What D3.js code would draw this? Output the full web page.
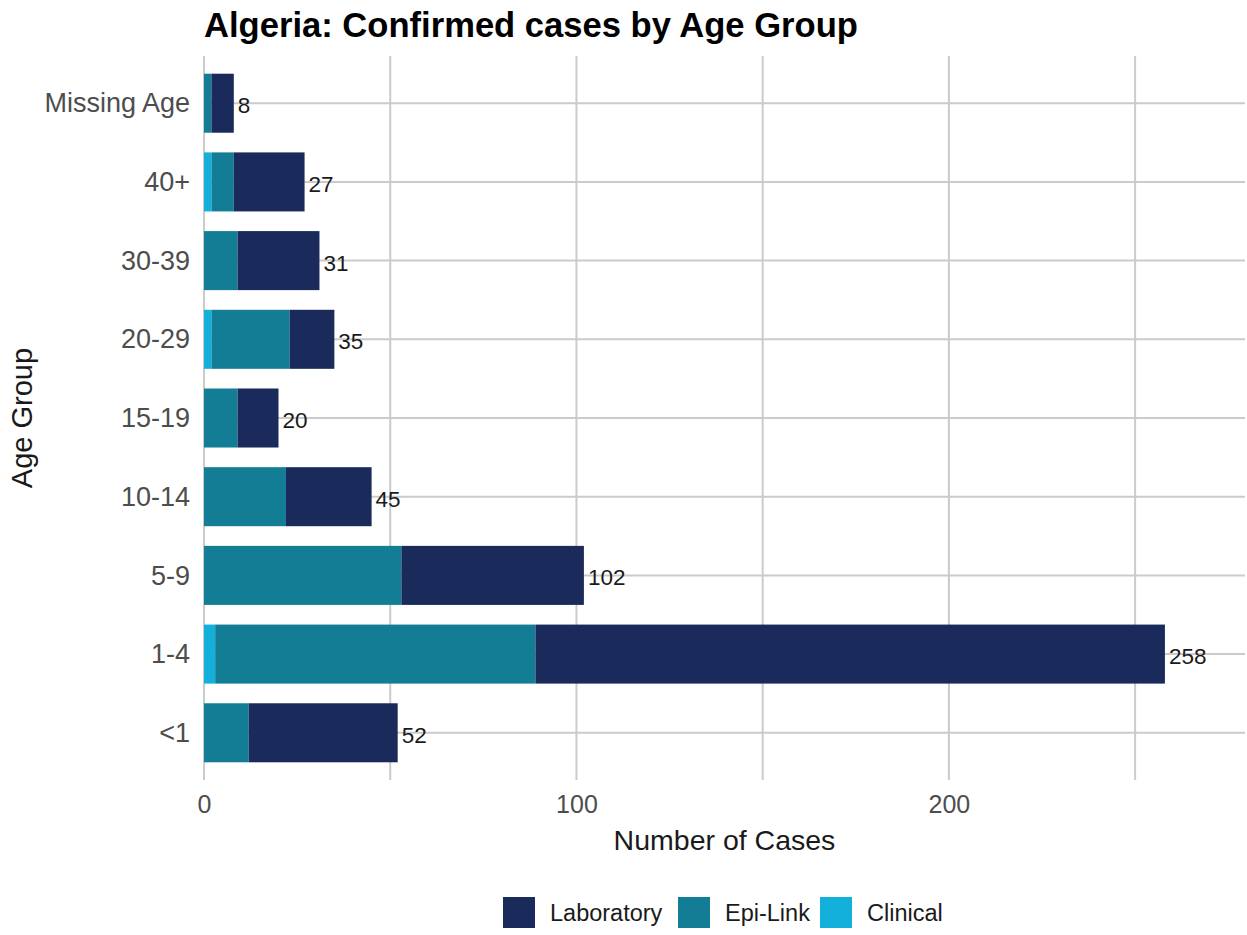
<!DOCTYPE html>
<html>
<head>
<meta charset="utf-8">
<script src="https://cdn.jsdelivr.net/npm/d3@7"></script>
<style>
  body { margin: 0; background: #fff; }
  text { font-family: "Liberation Sans", Arial, sans-serif; }
</style>
</head>
<body>
<div id="chart"></div>
<script>
var width = 1247,
	height = 935;

// data
var ageGroups = ["Missing Age", "40+", "30-39", "20-29", "15-19", "10-14", "5-9", "1-4", "<1"];
var clinical = [0, 2, 0, 2, 0, 0, 0, 3, 0];
var epiLink = [2, 6, 9, 21, 9, 22, 53, 86, 12];
var laboratory = [6, 19, 22, 12, 11, 23, 49, 169, 40];
var xTicks = [0, 100, 200];
var xGrid = [0, 50, 100, 150, 200, 250];

var seriesKeys = ["Clinical", "Epi-Link", "Laboratory"];
var colors = { "Laboratory": "#1a2a5a", "Epi-Link": "#127d95", "Clinical": "#12b0da" };

var rows = ageGroups.map(function (g, i) {
	return { group: g, "Clinical": clinical[i], "Epi-Link": epiLink[i], "Laboratory": laboratory[i] };
});
var stacked = d3.stack().keys(seriesKeys)(rows);

var panel = { left: 204, right: 1245, top: 56, bottom: 780 };

var x = d3.scaleLinear()
	.domain([0, 279.5])
	.range([panel.left, panel.right]);

// ggplot style discrete expansion: 0.6 of a step on each side
var step = (panel.bottom - panel.top) / (ageGroups.length - 1 + 1.2);
var y = d3.scalePoint()
	.domain(ageGroups)
	.range([panel.top + 0.6 * step, panel.bottom - 0.6 * step]);
var barH = step * 0.75;

var svg = d3.select("#chart").append("svg")
	.attr("width", width)
	.attr("height", height);

// grid
svg.append("g").selectAll("line.vg").data(xGrid).enter().append("line")
	.attr("x1", function (d) { return x(d); })
	.attr("x2", function (d) { return x(d); })
	.attr("y1", panel.top).attr("y2", panel.bottom)
	.attr("stroke", "#cbcbcb").attr("stroke-width", 2);

svg.append("g").selectAll("line.hg").data(ageGroups).enter().append("line")
	.attr("x1", panel.left).attr("x2", panel.right)
	.attr("y1", function (d) { return y(d); })
	.attr("y2", function (d) { return y(d); })
	.attr("stroke", "#cbcbcb").attr("stroke-width", 2);

// bars
svg.append("g").selectAll("g.layer").data(stacked).enter().append("g")
	.attr("fill", function (d) { return colors[d.key]; })
	.selectAll("rect").data(function (d) { return d; }).enter().append("rect")
	.attr("x", function (d) { return x(d[0]); })
	.attr("width", function (d) { return x(d[1]) - x(d[0]); })
	.attr("y", function (d) { return y(d.data.group) - barH / 2; })
	.attr("height", barH);

// totals
svg.append("g").selectAll("text").data(rows).enter().append("text")
	.attr("x", function (d) { return x(d["Clinical"] + d["Epi-Link"] + d["Laboratory"]) + 4; })
	.attr("y", function (d) { return y(d.group) + 2; })
	.attr("dy", "0.36em")
	.attr("font-size", 22.5)
	.attr("fill", "#1a1a1a")
	.text(function (d) { return d["Clinical"] + d["Epi-Link"] + d["Laboratory"]; });

// axes
var xAxis = d3.axisBottom(x).tickValues(xTicks).tickSize(0).tickPadding(15);
var gX = svg.append("g").attr("transform", "translate(0," + panel.bottom + ")").call(xAxis);
gX.select(".domain").remove();
gX.selectAll("text").attr("font-size", 25).attr("fill", "#4d4d4d")
	.style("font-family", "Liberation Sans, Arial, sans-serif");

var yAxis = d3.axisLeft(y).tickSize(0).tickPadding(14);
var gY = svg.append("g").attr("transform", "translate(" + panel.left + ",0)").call(yAxis);
gY.select(".domain").remove();
gY.selectAll("text").attr("font-size", 27).attr("fill", "#4d4d4d")
	.style("font-family", "Liberation Sans, Arial, sans-serif");

// titles
svg.append("text").attr("x", panel.left).attr("y", 37)
	.attr("font-size", 34.6).attr("font-weight", "bold").attr("fill", "#000")
	.text("Algeria: Confirmed cases by Age Group");

svg.append("text").attr("x", (panel.left + panel.right) / 2).attr("y", 850)
	.attr("text-anchor", "middle").attr("font-size", 28.5).attr("fill", "#1a1a1a")
	.text("Number of Cases");

svg.append("text")
	.attr("transform", "translate(32," + (panel.top + panel.bottom) / 2 + ") rotate(-90)")
	.attr("text-anchor", "middle").attr("font-size", 29).attr("fill", "#1a1a1a")
	.text("Age Group");

// legend
var legendItems = [
	{ key: "Laboratory", x: 503 },
	{ key: "Epi-Link", x: 678 },
	{ key: "Clinical", x: 820 }
];
var legend = svg.append("g").selectAll("g").data(legendItems).enter().append("g")
	.attr("transform", function (d) { return "translate(" + d.x + ",897)"; });
legend.append("rect").attr("width", 32).attr("height", 31)
	.attr("fill", function (d) { return colors[d.key]; });
legend.append("text").attr("x", 47).attr("y", 16).attr("dy", "0.36em")
	.attr("font-size", 23.5).attr("fill", "#1a1a1a")
	.text(function (d) { return d.key; });
</script>
</body>
</html>
